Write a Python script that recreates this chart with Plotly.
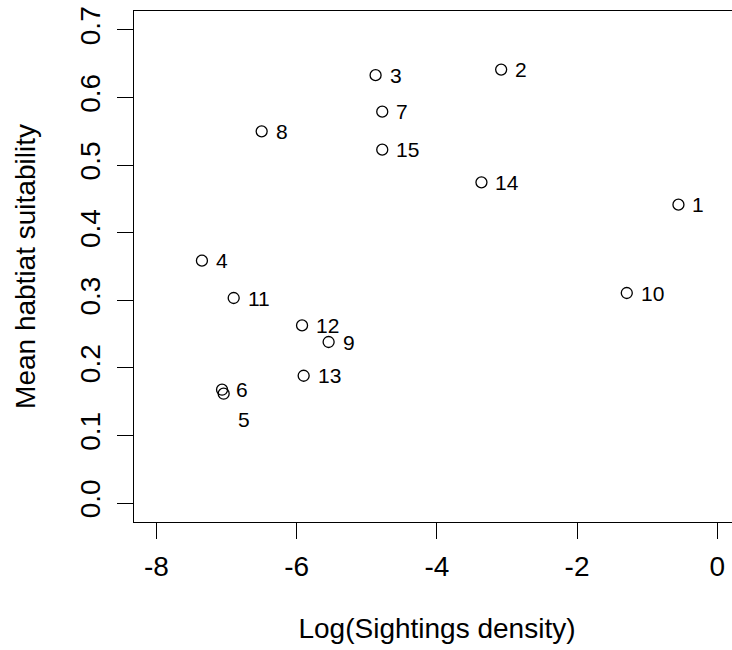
import plotly.graph_objects as go

# ---- data ----
site_ids = ["1", "2", "3", "4", "5", "6", "7", "8", "9", "10", "11", "12", "13", "14", "15"]
log_density = [-0.554, -3.083, -4.874, -7.351, -7.041, -7.064, -4.779, -6.499,
               -5.544, -1.291, -6.898, -5.923, -5.900, -3.364, -4.779]
habitat_suitability = [0.4415, 0.6413, 0.6331, 0.3586, 0.1618, 0.1677, 0.5791, 0.550,
                       0.2383, 0.3108, 0.3034, 0.2628, 0.1884, 0.4745, 0.5229]

x_ticks = [-8, -6, -4, -2, 0]
x_ticklabels = ["-8", "-6", "-4", "-2", "0"]
y_ticks = [0.0, 0.1, 0.2, 0.3, 0.4, 0.5, 0.6, 0.7]
y_ticklabels = ["0.0", "0.1", "0.2", "0.3", "0.4", "0.5", "0.6", "0.7"]

FONT = "Arial, Liberation Sans, sans-serif"

fig = go.Figure()
fig.add_trace(go.Scatter(
    x=log_density, y=habitat_suitability, mode="markers",
    marker=dict(symbol="circle-open", size=11, color="black",
                line=dict(width=1.3, color="black")),
    hoverinfo="skip", showlegend=False,
))

annotations = []
for sid, xv, yv in zip(site_ids, log_density, habitat_suitability):
    yshift = -26 if sid == "5" else 0
    annotations.append(dict(
        x=xv, y=yv, text=sid, showarrow=False, xanchor="left", yanchor="middle",
        xshift=12, yshift=yshift, font=dict(family=FONT, size=21, color="black"),
    ))

# The original plot box extends slightly past the right edge of the picture;
# the figure is laid out a bit wider than the 732 px window so it is cut the same way.
fig.update_layout(
    width=740, height=650,
    margin=dict(l=133.5, r=0, t=11, b=128.3, pad=0),
    plot_bgcolor="white", paper_bgcolor="white",
    font=dict(family=FONT, size=28, color="black"),
    annotations=annotations,
    xaxis=dict(
        range=[-8.32, 0.324], tickvals=x_ticks, ticktext=x_ticklabels,
        automargin=False, ticklabelstandoff=3,
        ticks="outside", ticklen=16, tickwidth=1.3, tickcolor="black",
        showline=True, mirror=True, linecolor="black", linewidth=1.3,
        showgrid=False, zeroline=False,
        tickfont=dict(family=FONT, size=28, color="black"),
        title=dict(text="Log(Sightings density)", standoff=37,
                   font=dict(family=FONT, size=28, color="black")),
    ),
    yaxis=dict(
        range=[-0.028, 0.728], tickvals=y_ticks, ticktext=y_ticklabels,
        tickangle=-90, automargin=False, ticklabelstandoff=6,
        ticks="outside", ticklen=16, tickwidth=1.3, tickcolor="black",
        showline=True, mirror=True, linecolor="black", linewidth=1.3,
        showgrid=False, zeroline=False,
        tickfont=dict(family=FONT, size=28, color="black"),
        title=dict(text="Mean habtiat suitability", standoff=30,
                   font=dict(family=FONT, size=28, color="black")),
    ),
)

fig.write_html(
    "out.html",
    config={"displayModeBar": False},
    post_script="document.body.style.margin='0';document.body.style.overflow='hidden';",
)
